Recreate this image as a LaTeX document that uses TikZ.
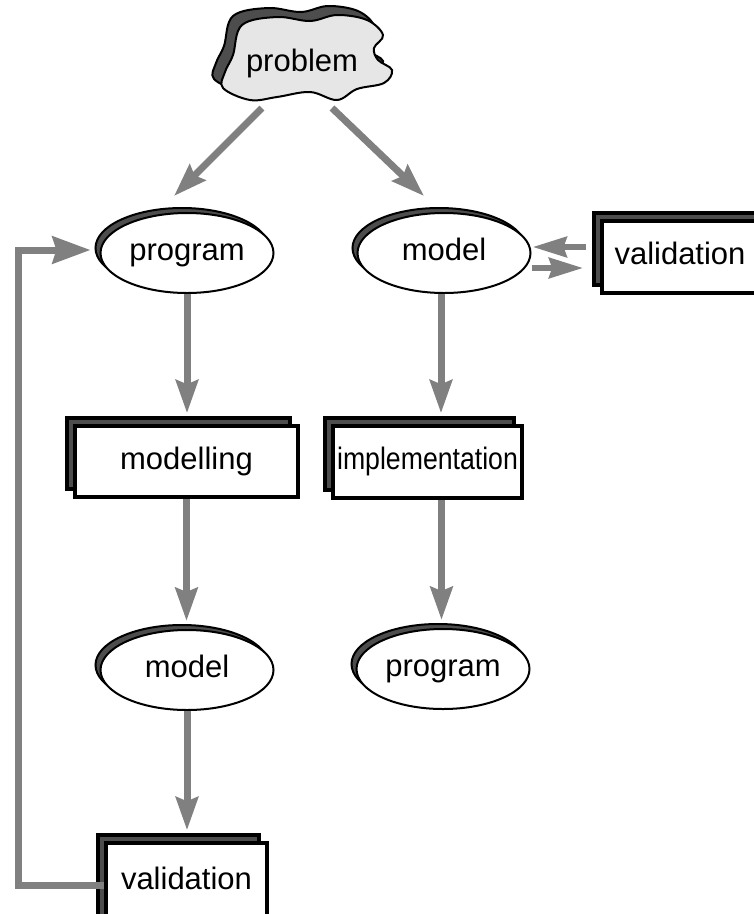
\documentclass[tikz,border=0pt]{standalone}
\usepackage{fontspec}
\setmainfont{Liberation Sans}
\usetikzlibrary{shapes.geometric,arrows.meta,calc}
\definecolor{arrowgray}{RGB}{128,128,128}
\definecolor{shadowgray}{RGB}{77,77,77}
\definecolor{cloudgray}{RGB}{230,230,230}
\newcommand\cloudpath{plot[smooth cycle, tension=0.6] coordinates {(242,25) (277,17) (310,21) (337,15) (367,20) (383,35) (374,48) (378,60) (392,70) (384,83) (357,89) (337,100) (310,92) (277,97) (250,100) (223,88) (225,72) (233,55)}}
\begin{document}
\begin{tikzpicture}[x=1pt,y=-1pt,
  lbl/.style={font=\fontsize{31}{36}\selectfont, text height=22pt, text depth=7pt, inner sep=0pt},
  ellmain/.style={ellipse, draw=black, line width=2pt, fill=white, minimum width=173pt, minimum height=80pt, inner sep=0pt, lbl},
  ellshadow/.style={ellipse, draw=black, line width=2pt, fill=shadowgray, minimum width=173pt, minimum height=80pt, inner sep=0pt},
  boxmain/.style={rectangle, draw=black, line width=3.5pt, fill=white, inner sep=0pt, lbl},
  boxshadow/.style={rectangle, draw=black, line width=3.5pt, fill=shadowgray, inner sep=0pt},
  garrow/.style={draw=arrowgray, line width=7pt, -{Stealth[length=33pt,width=22pt,inset=4pt]}},
  sarrow/.style={draw=arrowgray, line width=6.5pt, -{Stealth[length=34pt,width=20pt,inset=3pt]}},
  larrow/.style={draw=arrowgray, line width=7pt, line join=miter, -{Stealth[length=38pt,width=27pt,inset=4pt]}}
]
\useasboundingbox (0,0) rectangle (754,914);
\clip (0,0) rectangle (754,914);

% cloud
\begin{scope}[shift={(-9,-9)}]
  \draw[line width=2pt, fill=shadowgray] \cloudpath;
\end{scope}
\draw[line width=2pt, fill=cloudgray] \cloudpath;
\node[lbl] (problem) at (302,64) {problem};

% ellipses
\node[ellshadow] (prog1sh) at (182,248) {};
\node[ellmain] (prog1) at (187,253) {program};
\node[ellshadow] (model1sh) at (439,248) {};
\node[ellmain] (model1) at (444,253) {model};
\node[ellshadow] (model2sh) at (182,665) {};
\node[ellmain] (model2) at (187,670) {model};
\node[ellshadow] (prog2sh) at (438,664) {};
\node[ellmain] (prog2) at (443,669) {program};

% boxes
\node[boxshadow, minimum width=223pt, minimum height=71pt] (modsh) at (178.5,453.5) {};
\node[boxmain, minimum width=223pt, minimum height=71pt] (modelling) at (186.5,461.5) {modelling};
\node[boxshadow, minimum width=189pt, minimum height=72pt] (implsh) at (419.5,454) {};
\node[boxmain, minimum width=189pt, minimum height=72pt] (impl) at (427.5,462) {\scalebox{0.86}[1]{implementation}};
\node[boxshadow, minimum width=166pt, minimum height=72pt] (valid1sh) at (677,249) {};
\node[boxmain, minimum width=166pt, minimum height=72pt] (valid1) at (685,257) {\hspace*{-10pt}validation};
\node[boxshadow, minimum width=161pt, minimum height=85pt] (valid2sh) at (178.5,877.5) {};
\node[boxmain, minimum width=161pt, minimum height=85pt, text depth=15pt] (valid2) at (186.5,885.5) {validation};

% arrows from the problem
\draw[garrow] ($(problem)+(-40,44)$) -- ($(prog1.north)+(-13,-16)$);
\draw[garrow] ($(problem)+(30,44)$) -- ($(model1.north)+(-20,-16)$);

% vertical arrows
\draw[garrow, shorten >=3pt] (prog1.south) -- (prog1.south |- modsh.north);
\draw[garrow, shorten >=3pt] (modelling.south) -- (modelling.south |- model2sh.north);
\draw[garrow, shorten >=3pt] (model2.south) -- (model2.south |- valid2sh.north);
\draw[garrow, shorten >=3pt] ($(model1.south)+(-3,0)$) -- ($(model1.south |- implsh.north)+(-3,0)$);
\draw[garrow, shorten >=3pt] ($(impl.south)+(14,0)$) -- ($(impl.south |- prog2sh.north)+(14,0)$);

% model <-> validation
\draw[sarrow] ($(valid1.west)+(-14,-10)$) -- ($(model1.east)+(1,-6)$);
\draw[sarrow] ($(model1.east)+(0,15)$) -- ($(valid1.west)+(-17,11)$);

% feedback loop
\coordinate (loopx) at (18,0);
\coordinate (looptip) at ($(prog1.west)+(-9,-3)$);
\draw[larrow] (valid2.west) -| (loopx |- looptip) -- (looptip);
\end{tikzpicture}
\end{document}
